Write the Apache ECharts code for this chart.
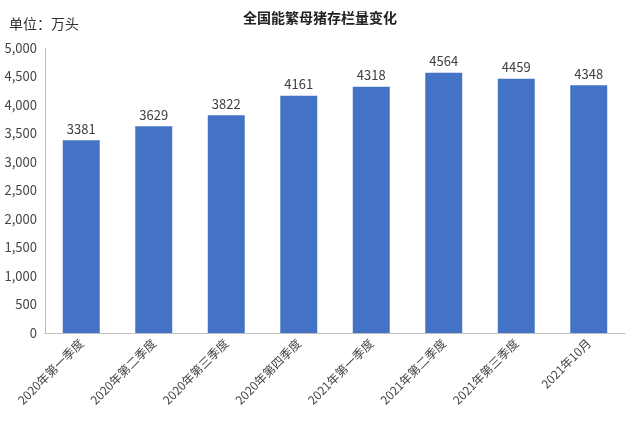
<!DOCTYPE html>
<html><head><meta charset="utf-8">
<script src="https://cdn.jsdelivr.net/npm/echarts@6/dist/echarts.min.js"></script>
<style>html,body{margin:0;padding:0;background:#fff}#c{width:640px;height:429px}</style>
</head><body><div id="c"></div>
<script>
const CATEGORIES = ['2020年第一季度', '2020年第二季度', '2020年第三季度', '2020年第四季度', '2021年第一季度', '2021年第二季度', '2021年第三季度', '2021年10月'];
const VALUES = [3381, 3629, 3822, 4161, 4318, 4564, 4459, 4348];
const FONT = '"Noto Sans CJK SC", "Noto Sans", sans-serif';

const chart = echarts.init(document.getElementById('c'), null, { renderer: 'canvas' });
chart.setOption({
    animation: false,
    title: [
        { text: '全国能繁母猪存栏量变化', left: 'center', top: 6, textStyle: { fontFamily: FONT, fontSize: 14, fontWeight: 'bold', color: '#222' } },
        { text: '单位：万头', left: 4, top: 12, textStyle: { fontFamily: FONT, fontSize: 14, fontWeight: 'normal', color: '#333' } },
    ],
    grid: { left: 45, right: 15, top: 48, bottom: 96 },
    xAxis: {
        type: 'category', data: CATEGORIES,
        axisTick: { show: false },
        axisLine: { lineStyle: { color: '#bfbfbf' } },
        axisLabel: { rotate: 45, interval: 0, fontSize: 12, color: '#444', fontFamily: FONT, margin: 8 },
    },
    yAxis: {
        type: 'value', min: 0, max: 5000, interval: 500,
        axisLine: { show: true, lineStyle: { color: '#bfbfbf' } },
        axisTick: { show: false },
        splitLine: { show: false },
        axisLabel: { fontSize: 13, color: '#444', fontFamily: FONT },
    },
    series: [{
        type: 'bar', data: VALUES, barWidth: '51%',
        itemStyle: { color: '#4472c4' },
        label: { show: true, position: 'top', fontSize: 13, color: '#404040', fontFamily: FONT },
    }],
});
</script></body></html>
